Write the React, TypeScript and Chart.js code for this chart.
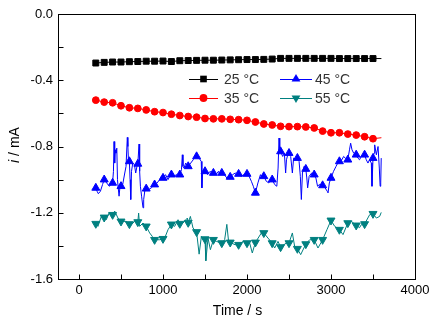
import React, { useEffect, useRef } from "react";
import { Chart, registerables } from "chart.js";

Chart.register(...registerables);

// ---- data ----
const t25 = [200, 300, 400, 500, 600, 700, 800, 900, 1000, 1100, 1200, 1300, 1400, 1500, 1600, 1700, 1800, 1900, 2000, 2100, 2200, 2300, 2400, 2500, 2600, 2700, 2800, 2900, 3000, 3100, 3200, 3300, 3400, 3500, 3600];
const i25 = [-0.296, -0.292, -0.29, -0.29, -0.288, -0.287, -0.285, -0.285, -0.284, -0.287, -0.282, -0.281, -0.28, -0.279, -0.279, -0.278, -0.277, -0.276, -0.275, -0.275, -0.274, -0.272, -0.268, -0.268, -0.268, -0.268, -0.268, -0.268, -0.268, -0.269, -0.269, -0.269, -0.269, -0.269, -0.269];

const t35 = t25;
const i35 = [-0.52, -0.532, -0.536, -0.554, -0.566, -0.57, -0.579, -0.59, -0.595, -0.605, -0.613, -0.619, -0.623, -0.631, -0.633, -0.633, -0.636, -0.638, -0.642, -0.652, -0.664, -0.67, -0.678, -0.68, -0.68, -0.682, -0.688, -0.707, -0.717, -0.717, -0.725, -0.731, -0.741, -0.753, -0.747];

const t45 = [
  200, 215, 230, 255, 280, 300, 330, 360, 380, 400,
  410, 417, 425, 432, 440, 450, 458, 465, 477, 490,
  500, 520, 545, 560, 575, 582, 590, 600, 608, 616,
  625, 640, 660, 675, 690, 700, 715, 722, 731, 745,
  762, 770, 785, 800, 830, 860, 880, 900, 930, 960,
  980, 1000, 1030, 1060, 1080, 1100, 1130, 1160, 1180, 1200,
  1220, 1230, 1238, 1250, 1270, 1300, 1330, 1360, 1380, 1400,
  1430, 1455, 1463, 1472, 1490, 1500, 1530, 1560, 1580, 1600,
  1630, 1660, 1680, 1700, 1730, 1760, 1780, 1800, 1830, 1860,
  1880, 1900, 1930, 1960, 1980, 2000, 2025, 2052, 2075, 2100,
  2130, 2160, 2180, 2200, 2230, 2260, 2280, 2300, 2330, 2355,
  2370, 2381, 2390, 2400, 2425, 2445, 2460, 2470, 2485, 2500,
  2520, 2540, 2555, 2580, 2600, 2620, 2635, 2647, 2660, 2680,
  2700, 2712, 2722, 2740, 2770, 2800, 2820, 2840, 2860, 2880,
  2900, 2930, 2955, 2965, 2980, 3000, 3030, 3060, 3080, 3100,
  3130, 3150, 3170, 3200, 3220, 3234, 3250, 3270, 3300, 3320,
  3340, 3360, 3380, 3400, 3420, 3440, 3460, 3480, 3488, 3500,
  3512, 3520, 3540, 3560, 3575, 3585, 3592, 3598,
];
const i45 = [
  -1.05, -1.07, -1.085, -1.07, -1.03, -1.0, -1.02, -1.04, -1.03, -1.02,
  -0.95, -0.77, -0.9, -0.82, -0.84, -0.81, -1.0, -1.04, -1.1, -1.03,
  -1.04, -1.03, -0.96, -0.92, -0.745, -0.8, -0.9, -0.89, -1.0, -1.12,
  -0.95, -0.9, -0.91, -0.96, -0.92, -0.905, -0.785, -0.95, -1.04, -1.1,
  -1.17, -1.12, -1.06, -1.055, -1.06, -1.05, -1.04, -1.03, -1.02, -1.0,
  -0.98, -0.99, -0.97, -1.0, -0.98, -0.97, -0.98, -0.97, -0.98, -0.97,
  -0.94, -0.85, -0.92, -0.93, -0.9, -0.92, -0.9, -0.88, -0.86, -0.86,
  -0.87, -0.89, -1.05, -0.96, -0.94, -0.95, -0.97, -0.95, -0.96, -0.96,
  -0.97, -0.95, -0.97, -0.96, -0.97, -0.99, -0.98, -0.984, -0.97, -0.96,
  -0.97, -0.966, -0.98, -0.97, -0.97, -0.966, -0.98, -1.01, -1.04, -1.08,
  -1.02, -0.97, -0.99, -0.98, -1.01, -1.02, -1.0, -1.0, -1.03, -1.04,
  -0.93, -0.749, -0.82, -0.83, -0.86, -0.84, -0.96, -0.88, -0.85, -0.84,
  -0.86, -0.96, -0.87, -0.88, -0.87, -0.89, -0.98, -1.12, -0.96, -0.92,
  -0.936, -0.99, -1.05, -0.98, -0.96, -0.97, -0.99, -1.04, -1.03, -1.03,
  -1.035, -1.05, -1.07, -1.08, -1.02, -0.99, -0.95, -0.92, -0.9, -0.89,
  -0.88, -0.86, -0.87, -0.88, -0.82, -0.78, -0.82, -0.84, -0.85, -0.87,
  -0.88, -0.86, -0.86, -0.85, -0.88, -0.9, -0.88, -0.9, -1.04, -0.87,
  -0.84, -0.79, -0.85, -0.8, -0.93, -1.04, -1.02, -0.87,
];

const t55 = [
  200, 226, 266, 300, 325, 357, 400, 425, 464, 500,
  563, 600, 623, 663, 700, 710, 722, 762, 800, 841,
  873, 900, 960, 1000, 1020, 1060, 1100, 1139, 1179, 1200,
  1238, 1290, 1300, 1326, 1357, 1400, 1430, 1457, 1480, 1500,
  1510, 1536, 1564, 1600, 1635, 1700, 1734, 1760, 1780, 1800,
  1857, 1900, 1952, 2000, 2032, 2063, 2100, 2171, 2200, 2250,
  2300, 2329, 2369, 2400, 2468, 2500, 2540, 2567, 2600, 2639,
  2700, 2746, 2800, 2845, 2900, 2952, 3000, 3044, 3100, 3143,
  3200, 3243, 3300, 3340, 3361, 3400, 3460, 3500, 3540, 3579,
  3598,
];
const i55 = [
  -1.266, -1.282, -1.222, -1.228, -1.242, -1.202, -1.212, -1.19, -1.232, -1.252,
  -1.252, -1.268, -1.272, -1.252, -1.256, -1.202, -1.282, -1.262, -1.282, -1.322,
  -1.343, -1.363, -1.363, -1.357, -1.353, -1.302, -1.27, -1.282, -1.242, -1.266,
  -1.262, -1.232, -1.26, -1.222, -1.292, -1.316, -1.45, -1.343, -1.36, -1.359,
  -1.49, -1.353, -1.423, -1.363, -1.373, -1.383, -1.363, -1.27, -1.37, -1.379,
  -1.393, -1.393, -1.373, -1.383, -1.383, -1.443, -1.379, -1.322, -1.322, -1.353,
  -1.383, -1.413, -1.373, -1.407, -1.383, -1.383, -1.322, -1.403, -1.417, -1.453,
  -1.389, -1.363, -1.363, -1.413, -1.363, -1.302, -1.246, -1.282, -1.302, -1.332,
  -1.262, -1.252, -1.276, -1.29, -1.272, -1.268, -1.212, -1.206, -1.232, -1.222,
  -1.198,
];

const markerTimes = [200, 300, 400, 500, 600, 700, 800, 900, 1000, 1100, 1200, 1300, 1400, 1500, 1600, 1700, 1800, 1900, 2000, 2100, 2200, 2300, 2400, 2500, 2600, 2700, 2800, 2900, 3000, 3100, 3200, 3300, 3400, 3500];

const seriesLabels = ["25 \u00B0C", "35 \u00B0C", "45 \u00B0C", "55 \u00B0C"];
const seriesColors = ["#000000", "#ff0000", "#0000ff", "#008080"];

const xTickValues = [0, 500, 1000, 1500, 2000, 2500, 3000, 3500, 4000];
const yTickValues = [-1.6, -1.4, -1.2, -1.0, -0.8, -0.6, -0.4, -0.2, 0.0];
const xLabelValues = [0, 1000, 2000, 3000, 4000];
const yLabelValues = [-1.6, -1.2, -0.8, -0.4, 0.0];

const xTitle = "Time / s";
const yTitleItalic = "i";
const yTitleRest = " / mA";

const FONT = '"Liberation Sans", Arial, sans-serif';

type MarkerStyle = "rect" | "circle" | "triangle" | "triangleDown";
const markerStyles: MarkerStyle[] = ["rect", "circle", "triangle", "triangleDown"];
const markerRadius = [4.2, 3.4, 4.6, 4.6];

function toPoints(ts: number[], vs: number[]) {
  return ts.map((t, i) => ({ x: t, y: vs[i] }));
}

function drawMarker(ctx: CanvasRenderingContext2D, style: MarkerStyle, x: number, y: number, r: number, color: string) {
  ctx.fillStyle = color;
  ctx.beginPath();
  if (style === "rect") {
    const s = r * Math.SQRT1_2;
    ctx.rect(x - s, y - s, 2 * s, 2 * s);
  } else if (style === "circle") {
    ctx.arc(x, y, r, 0, Math.PI * 2);
  } else {
    const dir = style === "triangle" ? -1 : 1;
    ctx.moveTo(x, y + dir * r);
    ctx.lineTo(x - r * 0.866, y - dir * r * 0.5);
    ctx.lineTo(x + r * 0.866, y - dir * r * 0.5);
    ctx.closePath();
  }
  ctx.fill();
}

const decorPlugin = {
  id: "decor",
  afterDraw(chart: any) {
    const { ctx, chartArea: a, scales } = chart;
    const c = ctx as CanvasRenderingContext2D;
    c.save();
    c.strokeStyle = "#000";
    c.lineWidth = 1;
    const L = Math.round(a.left) + 0.5;
    const R = Math.round(a.right) + 0.5;
    const T = Math.round(a.top) + 0.5;
    const B = Math.round(a.bottom) + 0.5;
    c.strokeRect(L, T, R - L, B - T);
    c.beginPath();
    for (const v of xTickValues) {
      const px = Math.round(scales.x.getPixelForValue(v)) + 0.5;
      c.moveTo(px, B);
      c.lineTo(px, B - 5);
    }
    for (const v of yTickValues) {
      const py = Math.round(scales.y.getPixelForValue(v)) + 0.5;
      c.moveTo(L, py);
      c.lineTo(L + 5, py);
    }
    c.stroke();

    // axis titles
    c.fillStyle = "#000";
    c.textBaseline = "middle";
    c.textAlign = "center";
    c.font = `14px ${FONT}`;
    c.fillText(xTitle, (a.left + a.right) / 2 + 1, 311);

    c.save();
    c.translate(15, 145);
    c.rotate(-Math.PI / 2);
    c.font = `italic 14px ${FONT}`;
    const w1 = c.measureText(yTitleItalic).width;
    c.font = `14px ${FONT}`;
    const w2 = c.measureText(yTitleRest).width;
    const start = -(w1 + w2) / 2;
    c.textAlign = "left";
    c.font = `italic 14px ${FONT}`;
    c.fillText(yTitleItalic, start, 0);
    c.font = `14px ${FONT}`;
    c.fillText(yTitleRest, start + w1, 0);
    c.restore();

    // legend
    const rows = [79, 98];
    const cols = [
      { x0: 189, x1: 218, tx: 224 },
      { x0: 280, x1: 312, tx: 315 },
    ];
    const order = [0, 1, 2, 3];
    c.textAlign = "left";
    c.font = `14px ${FONT}`;
    order.forEach((si) => {
      const col = cols[Math.floor(si / 2)];
      const y = rows[si % 2];
      c.strokeStyle = seriesColors[si];
      c.lineWidth = 1;
      c.beginPath();
      c.moveTo(col.x0, y + 0.5);
      c.lineTo(col.x1, y + 0.5);
      c.stroke();
      drawMarker(c, markerStyles[si], (col.x0 + col.x1) / 2, y, markerRadius[si] + 0.5, seriesColors[si]);
      c.fillStyle = "#333";
      c.fillText(seriesLabels[si], col.tx, y + 1);
    });
    c.restore();
  },
};

export default function App() {
  const ref = useRef<HTMLCanvasElement | null>(null);

  useEffect(() => {
    if (!ref.current) return;
    const isMarker = (x: number) => markerTimes.includes(x);
    const pointStyles: any[] = ["rect", "circle", "triangle", "triangle"];
    const seriesData = [toPoints(t25, i25), toPoints(t35, i35), toPoints(t45, i45), toPoints(t55, i55)];
    const datasets = seriesData.map((d, si) => ({
      label: seriesLabels[si],
      data: d,
      borderColor: seriesColors[si],
      backgroundColor: seriesColors[si],
      borderWidth: 1,
      pointStyle: pointStyles[si],
      pointRotation: si === 3 ? 180 : 0,
      pointRadius: (ctx: any) => (ctx.raw && isMarker(ctx.raw.x) ? markerRadius[si] : 0),
      pointBorderWidth: 1,
      pointHoverRadius: 0,
      tension: 0,
      fill: false,
    }));

    const chart = new Chart(ref.current, {
      type: "line",
      data: { datasets },
      plugins: [decorPlugin],
      options: {
        responsive: false,
        animation: false,
        devicePixelRatio: 1,
        layout: { padding: { top: 14, right: 28, left: 0, bottom: 0 } },
        plugins: { legend: { display: false }, tooltip: { enabled: false }, title: { display: false } },
        scales: {
          x: {
            type: "linear",
            min: -250,
            max: 4000,
            grid: { display: false, drawTicks: false },
            border: { display: false },
            afterBuildTicks: (s: any) => {
              s.ticks = xLabelValues.map((v) => ({ value: v }));
            },
            afterFit: (s: any) => {
              s.height = 50;
            },
            ticks: {
              padding: 4,
              color: "#000",
              font: { family: FONT, size: 13 },
              maxRotation: 0,
              autoSkip: false,
              callback: (v: any) => String(v),
            },
          },
          y: {
            type: "linear",
            min: -1.6,
            max: 0,
            grid: { display: false, drawTicks: false },
            border: { display: false },
            afterBuildTicks: (s: any) => {
              s.ticks = yLabelValues.map((v) => ({ value: v }));
            },
            afterFit: (s: any) => {
              s.width = 58;
            },
            ticks: {
              padding: 5,
              color: "#000",
              font: { family: FONT, size: 13 },
              autoSkip: false,
              callback: (v: any) => Number(v).toFixed(1),
            },
          },
        },
      },
    });
    return () => chart.destroy();
  }, []);

  return (
    <div style={{ position: "fixed", left: 0, top: 0, width: 443, height: 329, background: "#fff" }}>
      <canvas ref={ref} width={443} height={329} style={{ display: "block", width: 443, height: 329 }} />
    </div>
  );
}
